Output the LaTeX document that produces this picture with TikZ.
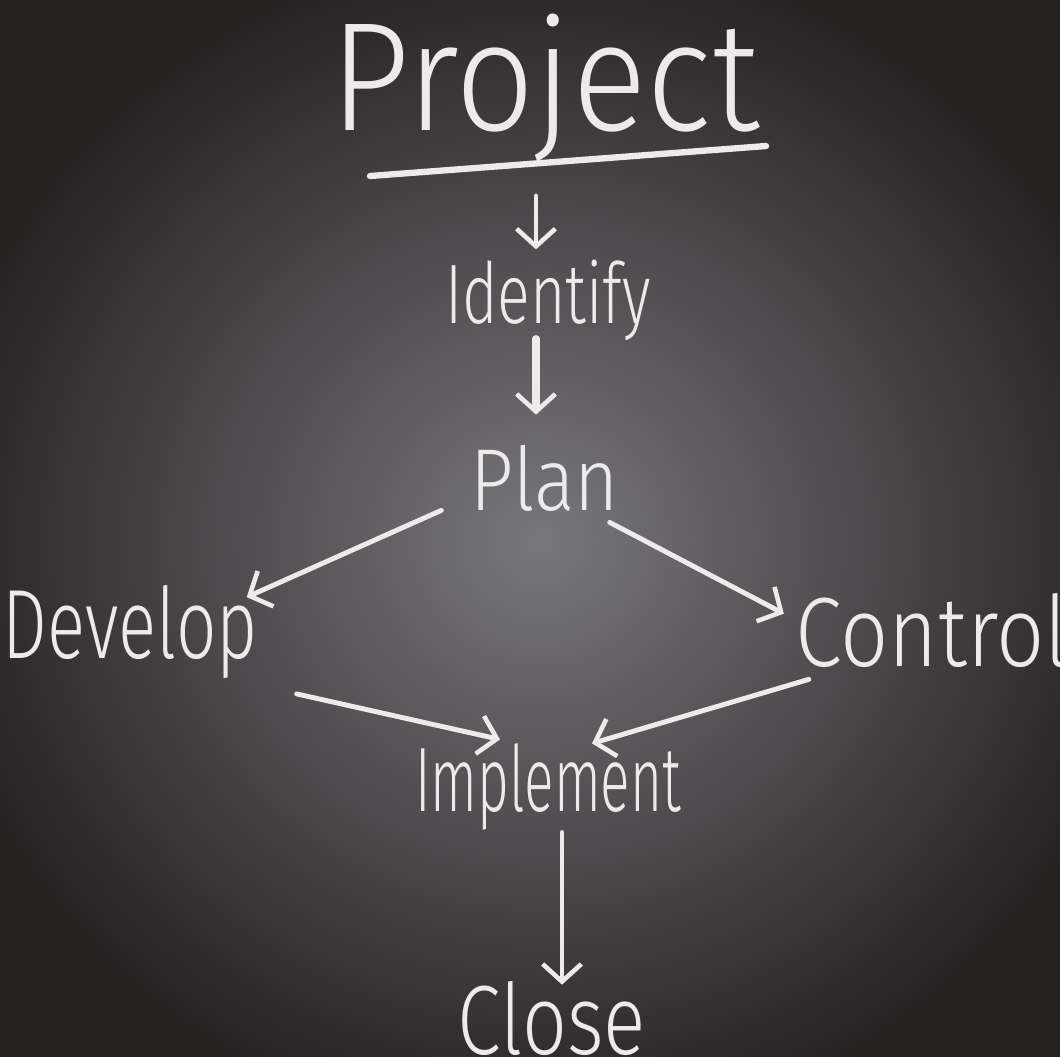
\documentclass[tikz,border=0pt]{standalone}
\usepackage{fontspec}
\setmainfont{Fira Sans Light}
\usetikzlibrary{arrows.meta,calc}
\definecolor{chalk}{RGB}{236,234,234}
\definecolor{boardin}{RGB}{120,119,124}
\definecolor{boardout}{RGB}{38,32,33}
\tikzset{
    word/.style={text=chalk, inner sep=1pt},
    chalkline/.style={draw=chalk, line width=1.4pt, line cap=round},
    chalkarrow/.style={chalkline, -{Straight Barb[length=5pt,width=11pt,line width=1.3pt]}},
  }

\begin{document}
\begin{tikzpicture}[x=0.01cm,y=-0.01cm]
				  %board
				  \useasboundingbox (0,0) rectangle (1060,1056);
				  \shade[inner color=boardin, outer color=boardout] (-80,-60) rectangle (1160,1140);
				  %words
				  \node[word, xscale=0.9, font=\fontsize{44}{50}\selectfont] (project) at (545,88) {Project};
				  \node[word, xscale=0.72, font=\fontsize{24}{28}\selectfont] (identify) at (548,300) {Identify};
				  \node[word, xscale=0.86, font=\fontsize{25}{30}\selectfont] (plan) at (545,478) {Plan};
				  \node[word, xscale=0.72, font=\fontsize{28}{32}\selectfont] (develop) at (130,632) {Develop};
				  \node[word, xscale=0.86, font=\fontsize{28}{32}\selectfont] (control) at (932,630) {Control};
				  \node[word, xscale=0.6, font=\fontsize{26}{30}\selectfont] (implement) at (548,787) {Implement};
				  \node[word, xscale=0.8, font=\fontsize{28}{32}\selectfont] (close) at (552,1018) {Close};
				  %underline
				  \coordinate(UL) at (370,176);
				  \coordinate(UR) at (766,146);
				  \draw[chalkline, line width=1.8pt] (UL) -- (UR);
				  %arrows
				  \coordinate(P1) at (536,196);
				  \draw[chalkarrow] (P1) -- ($(identify.north -| P1)+(0,-6)$);
				  \draw[chalkarrow, line width=2pt] ($(identify.south -| P1)+(0,-6)$) -- ($(plan.north -| P1)+(0,-26)$);
				  \draw[chalkarrow] ($(plan.south west)+(-26,-5)$) -- ($(develop.north east)+(-14,16)$);
				  \draw[chalkarrow] ($(plan.south east)+(-13,7)$) -- ($(control.north west)+(-8,25)$);
				  \draw[chalkarrow] ($(develop.south east)+(36,11)$) -- ($(implement.north)+(-48,0)$);
				  \draw[chalkarrow] ($(control.south west)+(17,8)$) -- ($(implement.north)+(44,4)$);
				  \draw[chalkarrow] ($(implement.south)+(14,-2)$) -- ($(close.north)+(10,8)$);
\end{tikzpicture}
\end{document}
